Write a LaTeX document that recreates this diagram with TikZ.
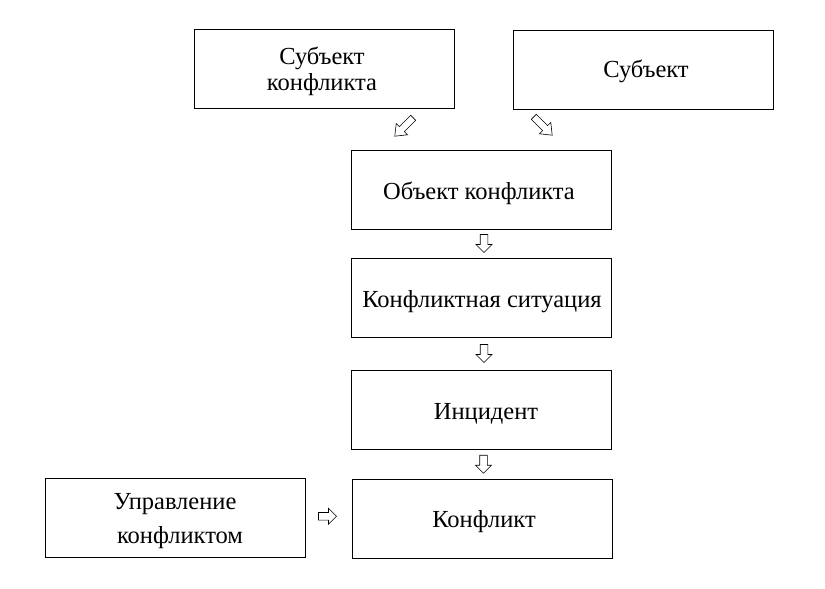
\documentclass[tikz,border=0pt]{standalone}
\usepackage{fontspec}
\setmainfont{Liberation Serif}
\usetikzlibrary{calc}
\tikzset{
  box/.style={draw, line width=1pt, minimum width=260pt, minimum height=79pt, inner sep=0pt, align=center, font=\fontsize{24.5}{26}\selectfont},
  lbl/.style={inner sep=0pt, align=center, font=\fontsize{24.5}{26}\selectfont},
  blockarrow/.pic={\draw[line width=0.6pt, line join=miter, fill=white]
     (-9,-3.8) -- (1,-3.8) -- (1,-8) -- (9,0) -- (1,8) -- (1,3.8) -- (-9,3.8) -- cycle;},
  diagarrow/.pic={\draw[line width=0.6pt, line join=miter, fill=white]
     (-13,-3.5) -- (3,-3.5) -- (3,-8) -- (13,0) -- (3,8) -- (3,3.5) -- (-13,3.5) -- cycle;}
}
\begin{document}
\begin{tikzpicture}[x=1pt,y=1pt]
\useasboundingbox (0,0) rectangle (825,-589);
\node[box] (subj1) at (324,-69) {};
\node[box] (subj2) at (643,-69.5) {};
\node[box] (obj) at (481,-189.5) {};
\node[box] (sit) at (481,-297.5) {};
\node[box] (inc) at (481,-409.5) {};
\node[box] (conf) at (482,-519) {};
\node[box] (mgmt) at (175,-517.5) {};
\node[lbl] (t1) at ($(subj1)+(-2,-2)$) {Субъект\\конфликта};
\node[lbl] (t2) at ($(subj2)+(3,-2)$) {Субъект};
\node[lbl] (t3) at ($(obj)+(-2,-3.5)$) {Объект конфликта};
\node[lbl] (t4) at ($(sit)+(1,-4.5)$) {Конфликтная ситуация};
\node[lbl] (t5) at ($(inc)+(5,-4.5)$) {Инцидент};
\node[lbl] (t6) at ($(conf)+(2,-3)$) {Конфликт};
\node[lbl, font=\fontsize{24.5}{34}\selectfont] (t7) at ($(mgmt)+(0,-4)$) {Управление\\\hspace*{10pt}конфликтом};
\pic[rotate=-135] at (404,-127) {diagarrow};
\pic[rotate=-45] at (543,-126) {diagarrow};
\pic[rotate=-90] at ($(obj.south)!0.5!(sit.north)+(3,0)$) {blockarrow};
\pic[rotate=-90] at ($(sit.south)!0.5!(inc.north)+(3,0)$) {blockarrow};
\pic[rotate=-90] at ($(inc.south)!0.5!(conf.north)+(2,0)$) {blockarrow};
\pic at ($(mgmt.east)!0.5!(conf.west)+(-1,2)$) {blockarrow};
\end{tikzpicture}
\end{document}
